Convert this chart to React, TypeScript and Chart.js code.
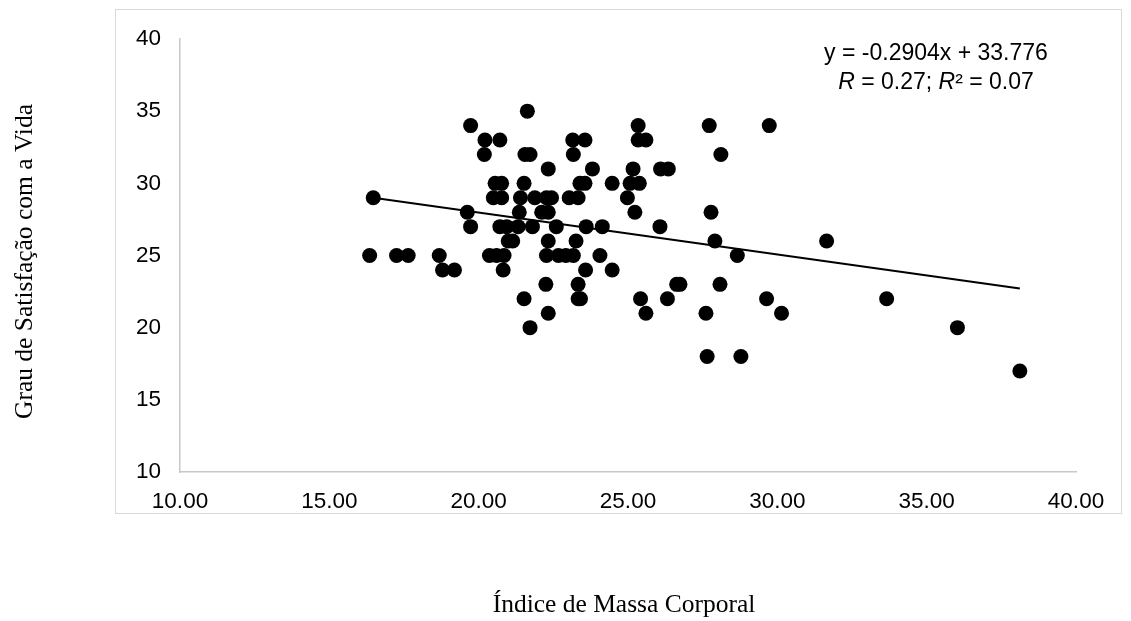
import React, { useEffect, useRef } from "react";
import { Chart, registerables } from "chart.js";

Chart.register(...registerables);

// ---- Data ----
const bmi: number[] = [
  21.63,
  19.73, 25.34, 27.72, 29.73,
  20.21, 20.71, 23.15, 23.56, 25.34, 25.6,
  20.19, 21.55, 21.72, 23.17, 28.11,
  22.33, 23.81, 25.17, 26.09, 26.35,
  20.55, 20.77, 21.52, 23.39, 23.56, 24.47, 25.07, 25.38,
  16.47, 20.49, 20.77, 21.4, 21.88, 22.27, 22.44, 23.03, 23.33, 24.98,
  19.62, 21.36, 22.11, 22.33, 25.23, 27.78,
  19.73, 20.71, 20.94, 21.32, 21.8, 22.6, 23.6, 24.14, 26.07,
  20.99, 21.14, 22.33, 23.26, 27.91, 31.65,
  16.35, 17.25, 17.64, 18.68, 20.36, 20.6, 20.85, 22.27, 22.67, 22.92, 23.17, 24.06, 28.66,
  18.79, 19.19, 20.82, 23.58, 24.47,
  22.25, 23.33, 26.63, 26.74, 28.08,
  21.52, 23.33, 23.41, 25.42, 26.32, 29.64, 33.66,
  22.33, 25.6, 27.61, 30.14,
  21.72, 36.03,
  27.65, 28.78,
  38.12,
];

const satisfaction: number[] = [
  35,
  34, 34, 34, 34,
  33, 33, 33, 33, 33, 33,
  32, 32, 32, 32, 32,
  31, 31, 31, 31, 31,
  30, 30, 30, 30, 30, 30, 30, 30,
  29, 29, 29, 29, 29, 29, 29, 29, 29, 29,
  28, 28, 28, 28, 28, 28,
  27, 27, 27, 27, 27, 27, 27, 27, 27,
  26, 26, 26, 26, 26, 26,
  25, 25, 25, 25, 25, 25, 25, 25, 25, 25, 25, 25, 25,
  24, 24, 24, 24, 24,
  23, 23, 23, 23, 23,
  22, 22, 22, 22, 22, 22, 22,
  21, 21, 21, 21,
  20, 20,
  18, 18,
  17,
];

const xTickValues: number[] = [10, 15, 20, 25, 30, 35, 40];
const yTickValues: number[] = [10, 15, 20, 25, 30, 35, 40];

const trendSlope = -0.2904;
const trendIntercept = 33.776;
const equationLabel = "y = -0.2904x + 33.776";
const rLabel = "0.27";
const r2Label = "0.07";

const xTitle = "Índice de Massa Corporal";
const yTitle = "Grau de Satisfação com a Vida";

const TICK_FONT = "Liberation Sans";
const TITLE_FONT = "Liberation Serif";

const decorPlugin = {
  id: "decor",
  afterDraw(chart: any) {
    const ctx: CanvasRenderingContext2D = chart.ctx;
    ctx.save();
    // outer chart box
    ctx.strokeStyle = "#d9d9d9";
    ctx.lineWidth = 1;
    ctx.strokeRect(115.5, 9.5, 1006, 504);

    // x title
    ctx.fillStyle = "#000";
    ctx.font = `25.5px "${TITLE_FONT}"`;
    ctx.textAlign = "center";
    ctx.textBaseline = "alphabetic";
    ctx.fillText(xTitle, 624, 611.5);

    // y title
    ctx.save();
    ctx.translate(31.5, 261.5);
    ctx.rotate(-Math.PI / 2);
    ctx.fillText(yTitle, 0, 0);
    ctx.restore();

    // equation
    const cx = 936;
    const size = 23;
    ctx.font = `${size}px "${TICK_FONT}"`;
    ctx.textAlign = "center";
    ctx.textBaseline = "middle";
    ctx.fillText(equationLabel, cx, 54);

    const normal = `${size}px "${TICK_FONT}"`;
    const italic = `italic ${size}px "${TICK_FONT}"`;
    const segs: [string, string][] = [
      ["R", italic],
      [" = " + rLabel + "; ", normal],
      ["R", italic],
      ["²", normal],
      [" = " + r2Label, normal],
    ];
    let total = 0;
    for (const [t, f] of segs) {
      ctx.font = f;
      total += ctx.measureText(t).width;
    }
    let x = cx - total / 2;
    ctx.textAlign = "left";
    for (const [t, f] of segs) {
      ctx.font = f;
      ctx.fillText(t, x, 83);
      x += ctx.measureText(t).width;
    }
    ctx.restore();
  },
};

export default function App() {
  const canvasRef = useRef<HTMLCanvasElement | null>(null);

  useEffect(() => {
    const canvas = canvasRef.current;
    if (!canvas) return;

    const points = bmi.map((b, i) => ({ x: b, y: satisfaction[i] }));
    const xMin = Math.min(...bmi);
    const xMax = Math.max(...bmi);
    const trend = [xMin, xMax].map((v) => ({ x: v, y: trendSlope * v + trendIntercept }));

    const tickFont = { family: TICK_FONT, size: 22.5 };

    const chart = new Chart(canvas, {
      type: "scatter",
      data: {
        datasets: [
          {
            type: "line",
            data: trend,
            borderColor: "#000",
            borderWidth: 2,
            pointRadius: 0,
            fill: false,
            order: 0,
          } as any,
          {
            data: points,
            backgroundColor: "#000",
            borderWidth: 0,
            pointRadius: 7.5,
            pointHoverRadius: 7.5,
            order: 1,
          },
        ],
      },
      options: {
        animation: false,
        responsive: false,
        maintainAspectRatio: false,
        events: [],
        layout: { padding: { left: 0, top: 39, right: 55, bottom: 0 } },
        plugins: {
          legend: { display: false },
          tooltip: { enabled: false },
          title: { display: false },
        },
        scales: {
          x: {
            type: "linear",
            min: 10,
            max: 40,
            afterBuildTicks: (s: any) => {
              s.ticks = xTickValues.map((v) => ({ value: v }));
            },
            afterFit: (s: any) => {
              s.height = 149;
            },
            ticks: {
              callback: (v: any) => Number(v).toFixed(2),
              font: tickFont,
              color: "#000",
              padding: 16,
              maxRotation: 0,
              autoSkip: false,
            },
            grid: { display: true, drawOnChartArea: false, drawTicks: false, color: "#bfbfbf" },
            border: { display: true, color: "#c8c8c8", width: 1.5 },
          },
          y: {
            type: "linear",
            min: 10,
            max: 40,
            afterBuildTicks: (s: any) => {
              s.ticks = yTickValues.map((v) => ({ value: v }));
            },
            afterFit: (s: any) => {
              s.width = 180;
            },
            ticks: {
              callback: (v: any) => String(v),
              font: tickFont,
              color: "#000",
              padding: 19,
              autoSkip: false,
            },
            grid: { display: true, drawOnChartArea: false, drawTicks: false, color: "#bfbfbf" },
            border: { display: true, color: "#c8c8c8", width: 1.5 },
          },
        },
      },
      plugins: [decorPlugin],
    });

    return () => chart.destroy();
  }, []);

  return (
    <div
      style={{
        position: "fixed",
        left: 0,
        top: 0,
        width: 1131,
        height: 621,
        background: "#fff",
      }}
    >
      <canvas ref={canvasRef} width={1131} height={621} style={{ width: 1131, height: 621, display: "block" }} />
    </div>
  );
}
